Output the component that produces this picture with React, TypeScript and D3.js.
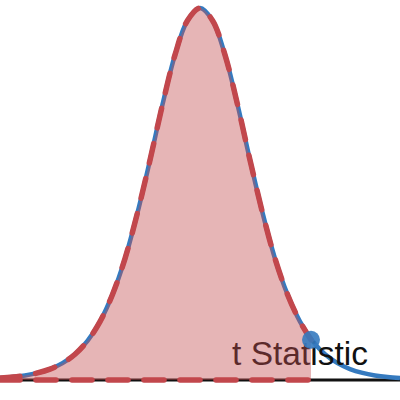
import React, { useRef, useEffect } from 'react';
import * as d3 from 'd3';

// t values along the x axis and the density (df ≈ 10)
const tValues = [
  -4, -3.75, -3.5, -3.25, -3, -2.75, -2.5, -2.25, -2, -1.75, -1.5, -1.25, -1, -0.75, -0.5, -0.25,
  0, 0.25, 0.5, 0.75, 1, 1.25, 1.5, 1.75, 2, 2.25, 2.5, 2.75, 3, 3.25, 3.5, 3.75, 4,
];
const densities = [
  0.002, 0.0031, 0.0048, 0.0074, 0.0114, 0.0176, 0.0269, 0.0409, 0.0611, 0.0895, 0.127, 0.175,
  0.23, 0.288, 0.34, 0.376, 0.389, 0.376, 0.34, 0.288, 0.23, 0.175, 0.127, 0.0895, 0.0611, 0.0409,
  0.0269, 0.0176, 0.0114, 0.0074, 0.0048, 0.0031, 0.002,
];
const tStatistic = 2.22;
const tStatisticDensity = 0.042;
const label = 't Statistic';

const App = () => {
  const chart = useRef(null);

  useEffect(() => {
    d3.select(chart.current).selectAll('*').remove();

    const width = 400;
    const height = 400;
    const baseline = 380;

    const svg = d3
      .select(chart.current)
      .append('svg')
      .attr('width', width)
      .attr('height', height)
      .style('position', 'absolute')
      .style('left', '0px')
      .style('top', '0px')
      .style('background', '#fff');

    const x = d3.scaleLinear().domain([-4, 4]).range([0, width]);
    const y = d3
      .scaleLinear()
      .domain([0, d3.max(densities)])
      .range([baseline, 8]);

    const points = tValues.map((t, i) => ({ t, d: densities[i] }));
    const tail = points.filter((p) => p.t < tStatistic);
    tail.push({ t: tStatistic, d: tStatisticDensity });

    const line = d3
      .line()
      .x((p) => x(p.t))
      .y((p) => y(p.d))
      .curve(d3.curveCatmullRom);

    const area = d3
      .area()
      .x((p) => x(p.t))
      .y0(y(0))
      .y1((p) => y(p.d))
      .curve(d3.curveCatmullRom);

    // baseline
    svg
      .append('line')
      .attr('x1', x(-4))
      .attr('x2', x(4))
      .attr('y1', y(0))
      .attr('y2', y(0))
      .attr('stroke', '#111')
      .attr('stroke-width', 3);

    // full density curve
    svg
      .append('path')
      .attr('d', line(points))
      .attr('fill', 'none')
      .attr('stroke', '#357abf')
      .attr('stroke-width', 4.5);

    svg
      .append('text')
      .attr('x', x(tStatistic) - 11)
      .attr('y', 365)
      .attr('text-anchor', 'middle')
      .attr('font-family', 'Liberation Sans, Arial, sans-serif')
      .attr('font-size', 33.5)
      .attr('fill', '#111')
      .text(label);

    // shaded region up to the statistic
    svg
      .append('path')
      .attr('d', area(tail))
      .attr('fill', '#c44e52')
      .attr('fill-opacity', 0.42);

    svg
      .append('path')
      .attr('d', line(tail))
      .attr('fill', 'none')
      .attr('stroke', '#c2474c')
      .attr('stroke-width', 5.5)
      .attr('stroke-linecap', 'round')
      .attr('stroke-dasharray', '20 16');

    svg
      .append('line')
      .attr('x1', x(-4))
      .attr('x2', x(tStatistic))
      .attr('y1', y(0))
      .attr('y2', y(0))
      .attr('stroke', '#c2474c')
      .attr('stroke-width', 5.5)
      .attr('stroke-linecap', 'round')
      .attr('stroke-dasharray', '20 16');

    svg
      .append('circle')
      .attr('cx', x(tStatistic))
      .attr('cy', y(tStatisticDensity))
      .attr('r', 9)
      .attr('fill', '#357abf')
      .attr('fill-opacity', 0.9);
  }, []);

  return <div ref={chart}></div>;
};

export default App;
